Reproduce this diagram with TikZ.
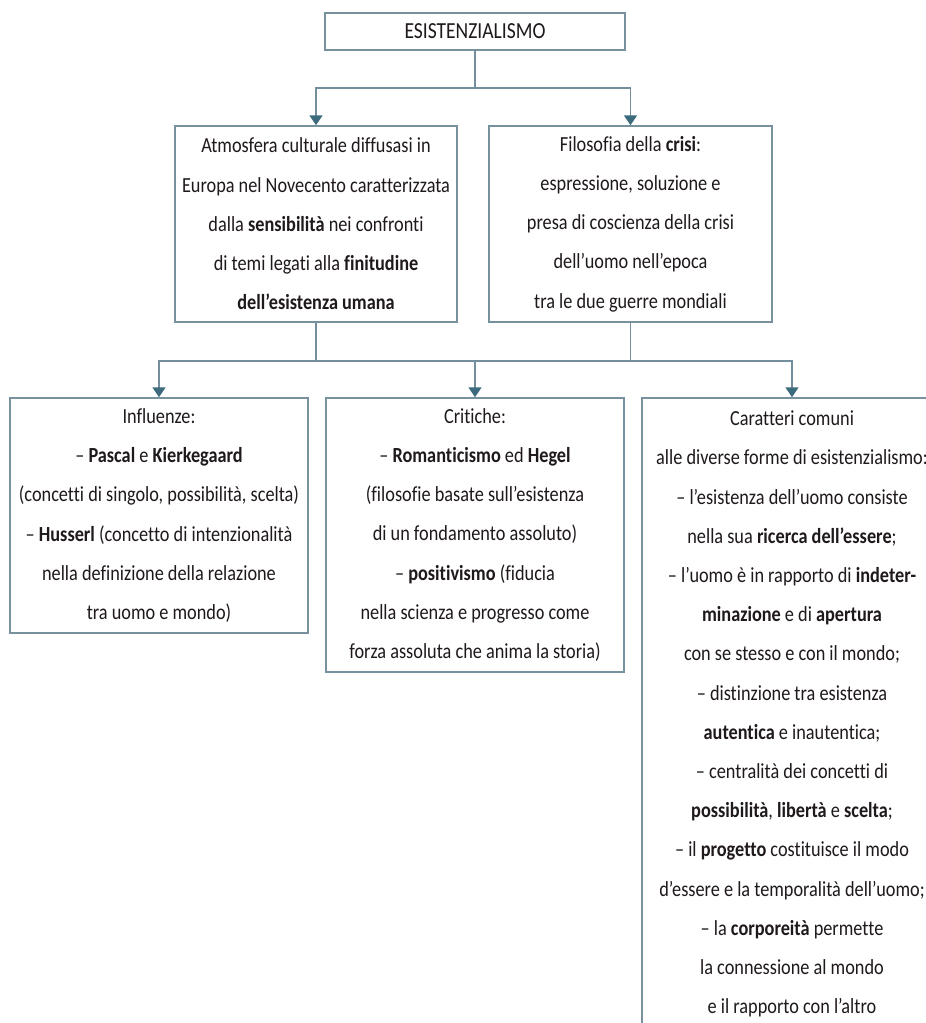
\documentclass[tikz,border=0pt]{standalone}
\usepackage{fontspec}
\setmainfont[FakeStretch=0.85,Ligatures=NoCommon]{Carlito}
\usetikzlibrary{arrows.meta,positioning}

\tikzset{
  box/.style={draw=cbox,line width=1.5pt,fill=white,text=ctext,align=center,
    inner sep=0pt,font=\fontsize{21.5}{39.2}\selectfont},
  link/.style={draw=cline,line width=1.5pt},
  arr/.style={link,-{Triangle[width=13pt,length=10pt,color=carrow]}},
}

\begin{document}
\begin{tikzpicture}[x=1pt,y=-1pt]
%
\useasboundingbox (0,0) rectangle (926,1023);
%
\definecolor{cbox}{rgb}{0.47,0.57,0.62}
\definecolor{cline}{rgb}{0.45,0.56,0.62}
\definecolor{carrow}{rgb}{0.23,0.42,0.49}
\definecolor{ctext}{rgb}{0.12,0.10,0.11}
%
\node[box,minimum width=300pt,minimum height=37pt,font=\fontsize{23}{28}\selectfont] (esist) at (475,31.5) {ESISTENZIALISMO};
%
\node[box,minimum width=282pt,minimum height=196pt] (atmosfera) at (316,224) {Atmosfera culturale diffusasi in\\
Europa nel Novecento caratterizzata\\
dalla \textbf{sensibilità} nei confronti\\
di temi legati alla \textbf{finitudine}\\
\textbf{dell’esistenza umana}};
\node[box,minimum width=283pt,minimum height=196pt] (crisi) at (630.5,224) {Filosofia della \textbf{crisi}:\\
espressione, soluzione e\\
presa di coscienza della crisi\\
dell’uomo nell’epoca\\
tra le due guerre mondiali};
%
\node[box,minimum width=298pt,minimum height=235pt] (influenze) at (159,515.5) {Influenze:\\
– \textbf{Pascal} e \textbf{Kierkegaard}\\
(concetti di singolo, possibilità, scelta)\\
– \textbf{Husserl} (concetto di intenzionalità\\
nella definizione della relazione\\
tra uomo e mondo)};
\node[box,minimum width=298pt,minimum height=274pt] (critiche) at (475,535) {Critiche:\\
– \textbf{Romanticismo} ed \textbf{Hegel}\\
(filosofie basate sull’esistenza\\
di un fondamento assoluto)\\
– \textbf{positivismo} (fiducia\\
nella scienza e progresso come\\
forza assoluta che anima la storia)};
\node[box,minimum width=300pt,minimum height=632pt] (caratteri) at (792,714) {Caratteri comuni\\
alle diverse forme di esistenzialismo:\\
– l’esistenza dell’uomo consiste\\
nella sua \textbf{ricerca dell’essere};\\
– l’uomo è in rapporto di \textbf{indeter-}\\
\textbf{minazione} e di \textbf{apertura}\\
con se stesso e con il mondo;\\
– distinzione tra esistenza\\
\textbf{autentica} e inautentica;\\
– centralità dei concetti di\\
\textbf{possibilità}, \textbf{libertà} e \textbf{scelta};\\
– il \textbf{progetto} costituisce il modo\\
d’essere e la temporalità dell’uomo;\\
– la \textbf{corporeità} permette\\
la connessione al mondo\\
e il rapporto con l’altro};
%
\coordinate (j1) at (esist.south |- 0,88);
\coordinate (j2) at (critiche.north |- 0,361);
%
\draw[link] (esist.south) -- (j1);
\draw[arr] (j1) -| (atmosfera.north);
\draw[arr] (j1) -| (crisi.north);
%
\draw[link] (atmosfera.south) |- (j2);
\draw[link] (crisi.south) |- (j2);
\draw[arr] (j2) -| (influenze.north);
\draw[arr] (j2) -- (critiche.north);
\draw[arr] (j2) -| (caratteri.north);
%
\end{tikzpicture}
\end{document}
